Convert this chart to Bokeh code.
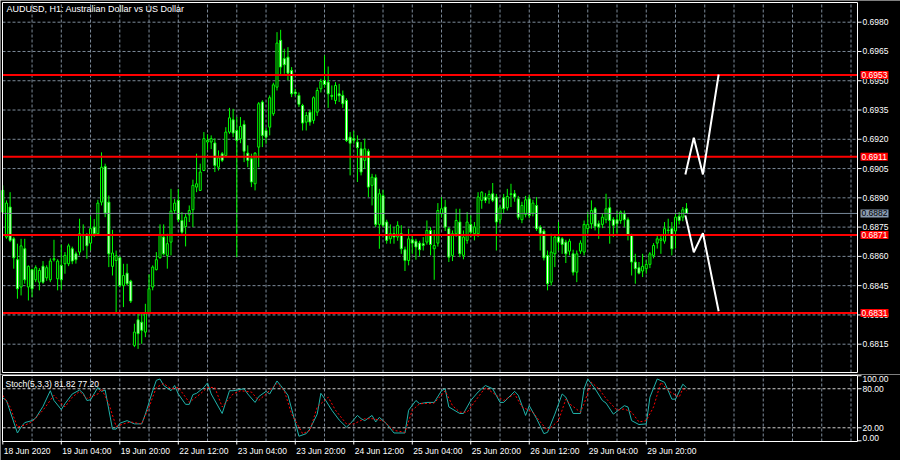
from bokeh.plotting import figure
from bokeh.layouts import column
from bokeh.models import Range1d, Label
from bokeh.embed import file_html
from bokeh.resources import INLINE

# ---------------- data ----------------
symbol_title = "AUDUSD, H1:  Australian Dollar vs US Dollar"
stoch_name = "Stoch(5,3,3)"

opens = [
    0.68827, 0.68699, 0.68853, 0.68690, 0.68583, 0.68443, 0.68639, 0.68443, 0.68532, 0.68480,
    0.68468, 0.68550, 0.68490, 0.68480, 0.68583, 0.68485, 0.68554, 0.68562, 0.68562, 0.68639,
    0.68613, 0.68622, 0.68710, 0.68712, 0.68668, 0.68750, 0.68716, 0.68878, 0.69061, 0.68878,
    0.68549, 0.68579, 0.68593, 0.68451, 0.68514, 0.68473, 0.68144, 0.68275, 0.68263, 0.68212,
    0.68309, 0.68443, 0.68532, 0.68593, 0.68699, 0.68605, 0.68673, 0.68835, 0.68887, 0.68784,
    0.68753, 0.68813, 0.68839, 0.68955, 0.68938, 0.69040, 0.69186, 0.69186, 0.69181, 0.69057,
    0.69126, 0.69117, 0.69237, 0.69300, 0.69245, 0.69203, 0.69276, 0.69129, 0.69100, 0.68972,
    0.69160, 0.69391, 0.69245, 0.69262, 0.69331, 0.69467, 0.69707, 0.69613, 0.69621, 0.69553,
    0.69442, 0.69425, 0.69373, 0.69288, 0.69339, 0.69297, 0.69339, 0.69459, 0.69502, 0.69493,
    0.69425, 0.69399, 0.69433, 0.69425, 0.69399, 0.69211, 0.69203, 0.69186, 0.69151, 0.69092,
    0.69139, 0.68964, 0.69003, 0.68764, 0.68912, 0.68776, 0.68690, 0.68716, 0.68699, 0.68716,
    0.68634, 0.68579, 0.68685, 0.68678, 0.68668, 0.68665, 0.68673, 0.68733, 0.68639, 0.68668,
    0.68818, 0.68853, 0.68742, 0.68605, 0.68716, 0.68776, 0.68605, 0.68682, 0.68764, 0.68716,
    0.68716, 0.68887, 0.68904, 0.68895, 0.68921, 0.68904, 0.68788, 0.68900, 0.68849, 0.68917,
    0.68921, 0.68895, 0.68788, 0.68815, 0.68895, 0.68822, 0.68861, 0.68750, 0.68730, 0.68605,
    0.68468, 0.68613, 0.68699, 0.68690, 0.68673, 0.68627, 0.68613, 0.68519, 0.68627, 0.68622,
    0.68742, 0.68767, 0.68844, 0.68767, 0.68764, 0.68788, 0.68849, 0.68788, 0.68788, 0.68784,
    0.68818, 0.68788, 0.68707, 0.68571, 0.68542, 0.68525, 0.68537, 0.68559, 0.68605, 0.68668,
    0.68682, 0.68678, 0.68735, 0.68742, 0.68730, 0.68805, 0.68801, 0.68844,
]
highs = [
    0.68964, 0.68887, 0.68929, 0.68700, 0.68665, 0.68690, 0.68690, 0.68554, 0.68537, 0.68554,
    0.68540, 0.68576, 0.68554, 0.68590, 0.68685, 0.68585, 0.68661, 0.68622, 0.68665, 0.68650,
    0.68625, 0.68793, 0.68764, 0.68720, 0.68805, 0.68791, 0.68890, 0.69133, 0.69075, 0.68912,
    0.68736, 0.68630, 0.68600, 0.68562, 0.68562, 0.68480, 0.68255, 0.68315, 0.68306, 0.68357,
    0.68508, 0.68554, 0.68622, 0.68764, 0.68764, 0.68716, 0.68946, 0.68895, 0.68946, 0.68827,
    0.68818, 0.68861, 0.68993, 0.69126, 0.69075, 0.69237, 0.69225, 0.69220, 0.69205, 0.69143,
    0.69135, 0.69262, 0.69361, 0.69356, 0.69314, 0.69314, 0.69297, 0.69169, 0.69126, 0.69134,
    0.69391, 0.69400, 0.69260, 0.69425, 0.69490, 0.69749, 0.69761, 0.69664, 0.69672, 0.69570,
    0.69459, 0.69440, 0.69382, 0.69340, 0.69350, 0.69420, 0.69465, 0.69510, 0.69630, 0.69573,
    0.69476, 0.69493, 0.69484, 0.69450, 0.69410, 0.69237, 0.69242, 0.69220, 0.69186, 0.69203,
    0.69151, 0.69023, 0.69020, 0.68946, 0.68941, 0.68788, 0.68764, 0.68750, 0.68780, 0.68760,
    0.68650, 0.68742, 0.68707, 0.68690, 0.68680, 0.68699, 0.68784, 0.68750, 0.68736, 0.68873,
    0.68904, 0.68890, 0.68750, 0.68733, 0.68844, 0.68844, 0.68733, 0.68827, 0.68810, 0.68776,
    0.68929, 0.68934, 0.68924, 0.68938, 0.68976, 0.68920, 0.68860, 0.68920, 0.68946, 0.68972,
    0.68940, 0.68910, 0.68880, 0.68910, 0.68915, 0.68890, 0.68904, 0.68760, 0.68740, 0.68630,
    0.68716, 0.68707, 0.68776, 0.68699, 0.68685, 0.68690, 0.68634, 0.68630, 0.68682, 0.68784,
    0.68827, 0.68887, 0.68853, 0.68784, 0.68818, 0.68921, 0.68895, 0.68801, 0.68832, 0.68835,
    0.68835, 0.68800, 0.68716, 0.68613, 0.68571, 0.68613, 0.68580, 0.68622, 0.68668, 0.68707,
    0.68707, 0.68776, 0.68793, 0.68776, 0.68818, 0.68827, 0.68853, 0.68873,
]
lows = [
    0.68818, 0.68690, 0.68673, 0.68537, 0.68383, 0.68400, 0.68460, 0.68374, 0.68391, 0.68468,
    0.68426, 0.68460, 0.68475, 0.68468, 0.68574, 0.68426, 0.68429, 0.68511, 0.68550, 0.68560,
    0.68563, 0.68605, 0.68630, 0.68588, 0.68630, 0.68699, 0.68707, 0.68861, 0.68801, 0.68545,
    0.68502, 0.68306, 0.68443, 0.68340, 0.68451, 0.68361, 0.68135, 0.68126, 0.68152, 0.68186,
    0.68306, 0.68426, 0.68528, 0.68588, 0.68605, 0.68537, 0.68605, 0.68818, 0.68776, 0.68716,
    0.68651, 0.68776, 0.68750, 0.68929, 0.68935, 0.69037, 0.69146, 0.69150, 0.69032, 0.69040,
    0.69083, 0.69109, 0.69228, 0.69211, 0.68596, 0.69180, 0.69083, 0.69057, 0.68955, 0.68938,
    0.69057, 0.69160, 0.69177, 0.69220, 0.69320, 0.69450, 0.69527, 0.69536, 0.69502, 0.69416,
    0.69422, 0.69365, 0.69245, 0.69245, 0.69270, 0.69280, 0.69320, 0.69440, 0.69465, 0.69361,
    0.69402, 0.69380, 0.69391, 0.69361, 0.69186, 0.69015, 0.69177, 0.68981, 0.69015, 0.69049,
    0.68904, 0.68861, 0.68750, 0.68639, 0.68750, 0.68665, 0.68665, 0.68665, 0.68680, 0.68613,
    0.68525, 0.68554, 0.68613, 0.68583, 0.68600, 0.68630, 0.68660, 0.68605, 0.68480, 0.68650,
    0.68800, 0.68730, 0.68571, 0.68576, 0.68700, 0.68596, 0.68585, 0.68665, 0.68699, 0.68682,
    0.68699, 0.68844, 0.68873, 0.68870, 0.68878, 0.68630, 0.68765, 0.68820, 0.68835, 0.68853,
    0.68880, 0.68788, 0.68770, 0.68800, 0.68795, 0.68805, 0.68730, 0.68630, 0.68579, 0.68426,
    0.68451, 0.68545, 0.68630, 0.68613, 0.68566, 0.68605, 0.68502, 0.68468, 0.68613, 0.68605,
    0.68716, 0.68742, 0.68733, 0.68690, 0.68745, 0.68770, 0.68665, 0.68699, 0.68716, 0.68767,
    0.68750, 0.68682, 0.68502, 0.68460, 0.68508, 0.68494, 0.68511, 0.68540, 0.68590, 0.68640,
    0.68613, 0.68665, 0.68716, 0.68605, 0.68640, 0.68764, 0.68780, 0.68818,
]
closes = [
    0.68938, 0.68873, 0.68682, 0.68593, 0.68434, 0.68654, 0.68480, 0.68549, 0.68434, 0.68542,
    0.68528, 0.68468, 0.68542, 0.68576, 0.68588, 0.68576, 0.68480, 0.68605, 0.68654, 0.68576,
    0.68583, 0.68716, 0.68706, 0.68654, 0.68742, 0.68716, 0.68873, 0.69057, 0.68822, 0.68613,
    0.68617, 0.68603, 0.68451, 0.68502, 0.68460, 0.68371, 0.68212, 0.68204, 0.68221, 0.68306,
    0.68434, 0.68545, 0.68583, 0.68712, 0.68613, 0.68665, 0.68832, 0.68873, 0.68788, 0.68724,
    0.68801, 0.68835, 0.68964, 0.68972, 0.69032, 0.69203, 0.69194, 0.69203, 0.69066, 0.69105,
    0.69092, 0.69237, 0.69310, 0.69232, 0.69194, 0.69266, 0.69139, 0.69092, 0.68981, 0.69129,
    0.69382, 0.69220, 0.69211, 0.69413, 0.69479, 0.69693, 0.69570, 0.69582, 0.69539, 0.69433,
    0.69434, 0.69379, 0.69283, 0.69322, 0.69288, 0.69413, 0.69450, 0.69496, 0.69481, 0.69433,
    0.69420, 0.69476, 0.69423, 0.69382, 0.69194, 0.69180, 0.69195, 0.69157, 0.69032, 0.69151,
    0.68955, 0.69006, 0.68764, 0.68921, 0.68759, 0.68682, 0.68716, 0.68699, 0.68759, 0.68639,
    0.68579, 0.68690, 0.68668, 0.68648, 0.68634, 0.68656, 0.68733, 0.68661, 0.68656, 0.68835,
    0.68844, 0.68750, 0.68596, 0.68716, 0.68784, 0.68613, 0.68699, 0.68776, 0.68724, 0.68750,
    0.68904, 0.68929, 0.68887, 0.68917, 0.68887, 0.68776, 0.68849, 0.68844, 0.68907, 0.68921,
    0.68904, 0.68801, 0.68861, 0.68890, 0.68810, 0.68873, 0.68742, 0.68719, 0.68593, 0.68460,
    0.68622, 0.68699, 0.68673, 0.68661, 0.68613, 0.68678, 0.68519, 0.68613, 0.68668, 0.68764,
    0.68764, 0.68835, 0.68754, 0.68750, 0.68801, 0.68844, 0.68784, 0.68759, 0.68767, 0.68827,
    0.68788, 0.68707, 0.68571, 0.68537, 0.68514, 0.68549, 0.68559, 0.68613, 0.68656, 0.68690,
    0.68690, 0.68742, 0.68733, 0.68639, 0.68801, 0.68784, 0.68839, 0.68820,
]

price_ticks = [0.6815, 0.6830, 0.6845, 0.6860, 0.6875, 0.6890,
               0.6905, 0.6920, 0.6935, 0.6950, 0.6965, 0.6980]
level_prices = [0.6953, 0.6911, 0.6871, 0.6831]
bid_price = 0.6882

date_labels = ["18 Jun 2020", "19 Jun 04:00", "19 Jun 20:00", "22 Jun 12:00",
               "23 Jun 04:00", "23 Jun 20:00", "24 Jun 12:00", "25 Jun 04:00",
               "25 Jun 20:00", "26 Jun 12:00", "29 Jun 04:00", "29 Jun 20:00"]
date_label_bars = [0, 16, 32, 48, 64, 80, 96, 112, 128, 144, 160, 176]

stoch_main_bars = [
    0, 1, 4, 5, 6, 8, 9, 11, 13, 14, 16, 17, 19, 21, 22, 23, 24, 26, 27, 28,
    30, 31, 32, 34, 36, 38, 39, 41, 42, 43, 44, 46, 47, 48, 50, 51, 52, 53, 55, 56,
    57, 60, 62, 63, 66, 67, 69, 70, 72, 73, 75, 76, 78, 81, 83, 84, 86, 87, 88, 90,
    92, 94, 95, 97, 98, 99, 101, 102, 103, 105, 107, 110, 111, 113, 114, 116, 118, 120, 121, 122,
    125, 126, 128, 130, 132, 134, 136, 137, 140, 141, 143, 144, 146, 148, 149, 151, 153, 154, 156, 158,
    159, 160, 162, 164, 165, 167, 170, 171, 172, 174, 176, 177, 179, 181, 183, 184, 186, 187,
]
stoch_main = [
    66, 62, 12, 21, 28, 31, 35, 53, 77, 62, 48, 57, 72, 78, 73, 62, 63, 82, 76, 78,
    18, 18, 27, 31, 26, 26, 41, 77, 93, 95, 85, 77, 85, 72, 56, 56, 71, 73, 82, 89,
    72, 42, 77, 77, 80, 72, 59, 68, 76, 72, 92, 85, 70, 7, 11, 18, 41, 73, 65, 47,
    32, 21, 26, 39, 34, 31, 39, 29, 36, 26, 12, 12, 47, 62, 57, 59, 59, 77, 80, 52,
    42, 42, 62, 75, 85, 80, 59, 59, 76, 70, 39, 54, 34, 11, 13, 41, 72, 67, 42, 42,
    80, 95, 80, 62, 58, 41, 54, 52, 31, 25, 26, 67, 95, 90, 64, 64, 87, 81.82,
]
stoch_signal_bars = [
    0, 2, 4, 6, 8, 11, 14, 17, 19, 21, 23, 26, 27, 29, 31, 33, 35, 38, 40, 42,
    44, 46, 48, 50, 51, 54, 56, 58, 60, 63, 65, 68, 70, 72, 75, 77, 79, 82, 84, 86,
    89, 91, 94, 96, 99, 101, 104, 107, 110, 112, 114, 118, 121, 123, 125, 127, 130, 132, 135, 137,
    140, 142, 145, 147, 149, 152, 154, 155, 158, 159, 161, 163, 165, 168, 170, 172, 174, 176, 178, 180,
    182, 185, 186, 187,
]
stoch_signal = [
    70, 52, 21, 24, 29, 47, 70, 52, 67, 76, 65, 72, 80, 57, 22, 26, 29, 26, 52, 82,
    88, 80, 82, 67, 59, 72, 82, 82, 52, 72, 77, 75, 62, 72, 88, 77, 41, 11, 16, 52,
    67, 47, 26, 26, 34, 34, 31, 16, 13, 47, 57, 58, 77, 54, 44, 44, 67, 82, 70, 62,
    72, 52, 44, 29, 16, 31, 64, 57, 44, 57, 90, 80, 65, 47, 49, 44, 29, 31, 52, 90,
    77, 67, 80, 77.20,
]
stoch_levels = [20, 80]
stoch_bounds = [0, 100]

proj_up_bars = [186.7, 189.0, 191.5, 195.8]
proj_up_prices = [0.69020, 0.69208, 0.69020, 0.69532]
proj_dn_bars = [186.7, 189.0, 191.5, 195.8]
proj_dn_prices = [0.68810, 0.68621, 0.68719, 0.68319]

# ---------------- layout constants (pixels) ----------------
W, H1, H2 = 900, 374, 86          # canvas sizes of the two panels
BOX_L, BOX_R = 2, 857             # chart box left / right edge (px)
BAR_PX, BAR0_PX = 3.656, 2.3      # bar spacing and pixel of bar 0
P_REF, P_REF_PX, P_PX = 0.6980, 21.7, 19515.0   # price scale (px per price unit)
S_ZERO_PX, S_PX = 440.3 - H1, 0.6505            # stoch scale inside panel 2
FONT = "Liberation Sans"
FS = "8.5px"
GRID_COLOR = "#7d8b9a"
BAR_COLOR = "#00ff00"
GRID_STEP = 8


def bar_at(px):
    return (px - BAR0_PX) / BAR_PX


def price_at(py):
    return P_REF - (py - P_REF_PX) / P_PX


def stoch_at(py):
    return (S_ZERO_PX - py) / S_PX


x_range = Range1d(bar_at(0), bar_at(W))
box_l, box_r = bar_at(BOX_L), bar_at(BOX_R)
tick_len = 4 / BAR_PX
grid_bars = list(range(GRID_STEP, int(box_r) + 1, GRID_STEP))
bars = list(range(len(closes)))


def base_fig(h, y_range):
    p = figure(width=W, height=h, x_range=x_range, y_range=y_range,
               x_axis_location=None, y_axis_location=None, toolbar_location=None,
               output_backend="svg", min_border=0)
    p.background_fill_color = "black"
    p.border_fill_color = "black"
    p.outline_line_color = None
    p.grid.visible = False
    return p


def text_label(p, **kw):
    opts = dict(text_color="white", text_font=FONT, text_font_size=FS,
                text_align="left", text_baseline="middle")
    opts.update(kw)
    p.add_layout(Label(**opts))


# ---------------- main price chart ----------------
p1 = base_fig(H1, Range1d(price_at(H1), price_at(0)))
b_top, b_bot = price_at(2), price_at(372)

# grid
p1.segment(x0=[box_l] * len(price_ticks), x1=[box_r] * len(price_ticks),
           y0=price_ticks, y1=price_ticks, line_color=GRID_COLOR, line_dash="3 2")
p1.segment(x0=grid_bars, x1=grid_bars, y0=[b_bot] * len(grid_bars), y1=[b_top] * len(grid_bars),
           line_color=GRID_COLOR, line_dash="3 2")

# candles
bull = [i for i in bars if closes[i] >= opens[i]]
bear = [i for i in bars if closes[i] < opens[i]]
p1.segment(x0=bars, y0=lows, x1=bars, y1=highs, line_color=BAR_COLOR, line_width=1)
for idx, fill in ((bull, "black"), (bear, "white")):
    p1.vbar(x=idx, top=[max(opens[i], closes[i]) for i in idx],
            bottom=[min(opens[i], closes[i]) for i in idx], width=0.55,
            fill_color=fill, line_color=BAR_COLOR, line_width=1)

# bid line and horizontal levels
p1.segment(x0=[box_l], x1=[box_r], y0=[bid_price], y1=[bid_price], line_color="#778899", line_width=1)
p1.segment(x0=[box_l] * len(level_prices), x1=[box_r] * len(level_prices),
           y0=level_prices, y1=level_prices, line_color="#ff0000", line_width=2)

# projections
p1.line(proj_up_bars, proj_up_prices, line_color="white", line_width=2)
p1.line(proj_dn_bars, proj_dn_prices, line_color="white", line_width=2)

# chart box and price scale
p1.quad(left=[box_l], right=[box_r], bottom=[b_bot], top=[b_top],
        fill_color=None, line_color="white", line_width=1)
p1.segment(x0=[box_r] * len(price_ticks), x1=[box_r + tick_len] * len(price_ticks),
           y0=price_ticks, y1=price_ticks, line_color="white", line_width=1)
for t in price_ticks:
    text_label(p1, x=box_r, y=t, x_offset=5, text=f"{t:.4f}")
for lv in level_prices:
    text_label(p1, x=box_r, y=lv, x_offset=3, text=f"{lv:.4f}",
               background_fill_color="#ff0000", padding=1)
text_label(p1, x=box_r, y=bid_price, x_offset=3, text=f"{bid_price:.4f}", text_color="black",
           background_fill_color="#8a9ab0", padding=1)

text_label(p1, x=6, y=H1 - 3, x_units="screen", y_units="screen", text=symbol_title,
           text_baseline="top", text_font_size="9px")

# ---------------- stochastic panel ----------------
p2 = base_fig(H2, Range1d(stoch_at(H2), stoch_at(0)))
s_top, s_bot = stoch_at(375 - H1), stoch_at(441 - H1)

p2.segment(x0=grid_bars, x1=grid_bars, y0=[s_bot] * len(grid_bars), y1=[s_top] * len(grid_bars),
           line_color=GRID_COLOR, line_dash="3 2")
p2.segment(x0=[box_l] * len(stoch_levels), x1=[box_r] * len(stoch_levels),
           y0=stoch_levels, y1=stoch_levels, line_color="#d0d0d0", line_dash="3 2")

p2.line(stoch_main_bars, stoch_main, line_color="#20b2aa", line_width=1)
p2.line(stoch_signal_bars, stoch_signal, line_color="#ff0000", line_width=1, line_dash="2 2")

p2.quad(left=[box_l], right=[box_r], bottom=[s_bot], top=[s_top],
        fill_color=None, line_color="white", line_width=1)

stoch_ticks = stoch_bounds[:1] + stoch_levels + stoch_bounds[1:]
p2.segment(x0=[box_r] * len(stoch_ticks), x1=[box_r + tick_len] * len(stoch_ticks),
           y0=stoch_ticks, y1=stoch_ticks, line_color="white", line_width=1)
for t in stoch_levels:
    text_label(p2, x=box_r, y=t, x_offset=5, text=f"{t:.2f}")
text_label(p2, x=box_r, y=stoch_bounds[1], x_offset=5, text=f"{stoch_bounds[1]:.2f}",
           text_baseline="top")
text_label(p2, x=box_r, y=stoch_bounds[0], x_offset=5, text=f"{stoch_bounds[0]:.2f}",
           text_baseline="bottom")

# time scale
p2.segment(x0=date_label_bars, x1=date_label_bars,
           y0=[s_bot] * len(date_label_bars), y1=[s_bot - 3 / S_PX] * len(date_label_bars),
           line_color="white", line_width=1)
for bar, txt in zip(date_label_bars, date_labels):
    text_label(p2, x=bar, y=s_bot, x_offset=1, y_offset=-4, text=txt, text_baseline="top")

text_label(p2, x=5, y=H2 - 9, x_units="screen", y_units="screen",
           text=f"{stoch_name} {stoch_main[-1]:.2f} {stoch_signal[-1]:.2f}")

layout = column(p1, p2)

open("out.html", "w").write(file_html(layout, INLINE))
